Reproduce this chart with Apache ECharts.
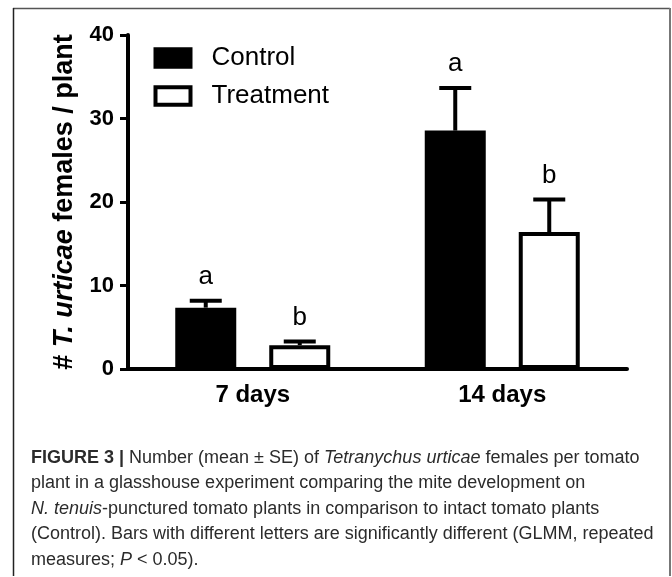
<!DOCTYPE html>
<html>
<head>
<meta charset="utf-8">
<script src="https://cdn.jsdelivr.net/npm/echarts@6/dist/echarts.min.js"></script>
<style>
html,body{margin:0;padding:0;background:#fff;}
#chart{width:672px;height:577px;}
</style>
</head>
<body>
<div id="chart"></div>
<script>
// ---- data ----
var categories = ['7 days', '14 days'];
var controlMean = [7.35, 28.55];
var controlSE = [0.83, 5.1];
var treatmentMean = [2.85, 16.4];
var treatmentSE = [0.44, 3.9];
var controlLetters = ['a', 'a'];
var treatmentLetters = ['b', 'b'];
var yTicks = [0, 10, 20, 30, 40];
var captionLines = [
  '{b|FIGURE 3 |} Number (mean \u00b1 SE) of {i|Tetranychus urticae} females per tomato',
  'plant in a glasshouse experiment comparing the mite development on',
  '{i|N. tenuis}-punctured tomato plants in comparison to intact tomato plants',
  '(Control). Bars with different letters are significantly different (GLMM, repeated',
  'measures; {i|P} < 0.05).'
];

// ---- styling constants ----
var FONT = '"Liberation Sans", Arial, Helvetica, sans-serif';
var BAR_W = 61;
var BAR_GAP_PX = 33;
var BORDER = 4;
var OFFSET = (BAR_W + BAR_GAP_PX) / 2;
var CAP_FS = 18;

function errorSeries(name, means, ses, letters, sign) {
  return {
    type: 'custom',
    name: name + ' err',
    clip: false,
    z: 5,
    data: means.map(function (m, i) { return [i, m, ses[i]]; }),
    renderItem: function (params, api) {
      var i = api.value(0), m = api.value(1), se = api.value(2);
      var base = api.coord([i, m]);
      var top = api.coord([i, m + se]);
      var x = base[0] + sign * OFFSET;
      var capHalf = 16;
      return {
        type: 'group',
        children: [
          { type: 'line', shape: { x1: x, y1: base[1], x2: x, y2: top[1] },
            style: { stroke: '#000', lineWidth: 4 } },
          { type: 'line', shape: { x1: x - capHalf, y1: top[1], x2: x + capHalf, y2: top[1] },
            style: { stroke: '#000', lineWidth: 4 } },
          { type: 'text', x: x, y: top[1] - 24,
            style: { text: letters[params.dataIndex], fontSize: 26, fontFamily: FONT,
                     fill: '#000', align: 'center', verticalAlign: 'middle' } }
        ]
      };
    }
  };
}

var chart = echarts.init(document.getElementById('chart'), null, { renderer: 'canvas' });

var graphics = [
  { type: 'line', shape: { x1: 13, y1: 8.5, x2: 670, y2: 8.5 }, style: { stroke: '#555', lineWidth: 1.5 } },
  { type: 'line', shape: { x1: 13.5, y1: 8, x2: 13.5, y2: 576 }, style: { stroke: '#222', lineWidth: 1.5 } },
  { type: 'line', shape: { x1: 670, y1: 8, x2: 670, y2: 576 }, style: { stroke: '#777', lineWidth: 2 } }
];
captionLines.forEach(function (t, k) {
  graphics.push({
    type: 'text', left: 31, top: 449 + k * 25.5,
    style: {
      text: t, fontSize: CAP_FS, fontFamily: FONT, fill: '#2b2b2b',
      rich: {
        b: { fontWeight: 'bold', fontSize: CAP_FS, fontFamily: FONT, fill: '#2b2b2b' },
        i: { fontStyle: 'italic', fontSize: CAP_FS, fontFamily: FONT, fill: '#2b2b2b' }
      }
    }
  });
});

chart.setOption({
  animation: false,
  backgroundColor: '#fff',
  textStyle: { fontFamily: FONT },
  grid: { left: 128, right: 45, top: 35, bottom: 208, containLabel: false },
  legend: {
    orient: 'vertical', left: 148.5, top: 40, itemWidth: 35, itemHeight: 17.5, itemGap: 12,
    icon: 'rect',
    data: ['Control', 'Treatment'],
    itemStyle: { borderWidth: 4, borderColor: '#000' },
    textStyle: { fontSize: 26, color: '#000', fontFamily: FONT, padding: [0, 0, 0, 16] }
  },
  xAxis: {
    type: 'category', data: categories,
    axisLine: { lineStyle: { color: '#000', width: 4 } },
    axisTick: { alignWithLabel: true, length: 8, lineStyle: { color: '#000', width: 3 } },
    axisLabel: { fontSize: 24, fontWeight: 'bold', color: '#000', margin: 14, fontFamily: FONT },
    splitLine: { show: false }
  },
  yAxis: {
    type: 'value', min: yTicks[0], max: yTicks[yTicks.length - 1], interval: yTicks[1] - yTicks[0],
    name: '{n|# }{i|T. urticae}{n| females / plant}',
    nameLocation: 'middle', nameRotate: 90, nameGap: 50,
    nameTextStyle: {
      fontSize: 27, fontWeight: 'bold', color: '#000', fontFamily: FONT,
      rich: {
        n: { fontSize: 27, fontWeight: 'bold', color: '#000', fontFamily: FONT },
        i: { fontSize: 27, fontWeight: 'bold', fontStyle: 'italic', color: '#000', fontFamily: FONT }
      }
    },
    axisLine: { show: true, lineStyle: { color: '#000', width: 4 } },
    axisTick: { show: true, length: 8, lineStyle: { color: '#000', width: 3 } },
    axisLabel: { fontSize: 22, fontWeight: 'bold', color: '#000', margin: 14, fontFamily: FONT },
    splitLine: { show: false }
  },
  series: [
    { type: 'bar', name: 'Control', data: controlMean, barWidth: BAR_W,
      barGap: (BAR_GAP_PX / BAR_W * 100) + '%',
      itemStyle: { color: '#000', borderColor: '#000', borderWidth: BORDER } },
    { type: 'bar', name: 'Treatment', data: treatmentMean, barWidth: BAR_W,
      barGap: (BAR_GAP_PX / BAR_W * 100) + '%',
      itemStyle: { color: '#fff', borderColor: '#000', borderWidth: BORDER } },
    errorSeries('Control', controlMean, controlSE, controlLetters, -1),
    errorSeries('Treatment', treatmentMean, treatmentSE, treatmentLetters, 1)
  ],
  graphic: graphics
});
</script>
</body>
</html>
